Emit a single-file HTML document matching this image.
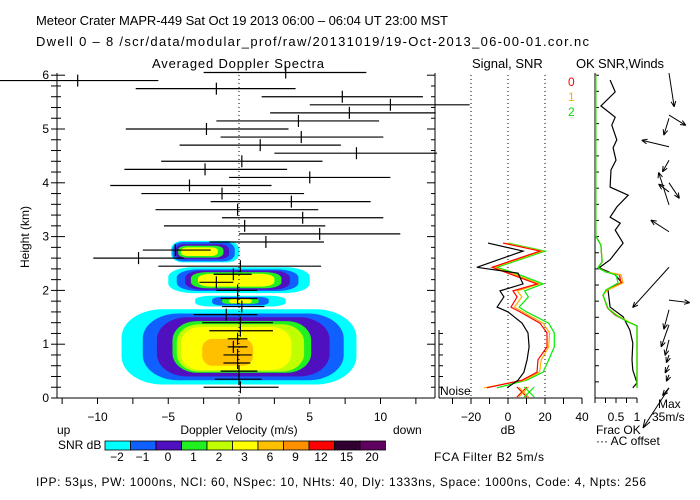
<!DOCTYPE html>
<html><head><meta charset="utf-8">
<style>
html,body{margin:0;padding:0;background:#fff;}
svg{display:block;font-family:"Liberation Sans",sans-serif;}
text{font-size:12px;fill:#000;}
</style></head>
<body>
<svg id="chart" width="700" height="500" viewBox="0 0 700 500" xmlns="http://www.w3.org/2000/svg">
<text x="36" y="25" style="font-size:13px" textLength="412" lengthAdjust="spacing">Meteor Crater  MAPR-449  Sat Oct 19 2013 06:00 – 06:04 UT 23:00 MST</text>
<text x="36" y="46" style="font-size:13px" textLength="553" lengthAdjust="spacing">Dwell  0 –  8   /scr/data/modular_prof/raw/20131019/19-Oct-2013_06-00-01.cor.nc</text>
<text x="152" y="68" style="font-size:13px" textLength="172" lengthAdjust="spacing">Averaged Doppler Spectra</text>
<text x="472" y="68" style="font-size:13px">Signal, SNR</text>
<text x="576" y="68" style="font-size:13px" textLength="88" lengthAdjust="spacing">OK SNR,Winds</text>
<text transform="translate(29,237) rotate(-90)" text-anchor="middle">Height (km)</text>
<text x="239" y="434" text-anchor="middle">Doppler Velocity (m/s)</text>
<text x="57" y="434">up</text>
<text x="393" y="434">down</text>
<text x="508" y="434" text-anchor="middle">dB</text>
<text x="596" y="434">Frac OK</text>
<text x="596" y="445">··· AC offset</text>
<text x="58" y="449">SNR dB</text>
<text x="434" y="461" textLength="110" lengthAdjust="spacing">FCA Filter B2  5m/s</text>
<text x="36" y="486" textLength="610" lengthAdjust="spacing">IPP:  53µs,  PW: 1000ns,  NCI:  60,  NSpec: 10, NHts: 40,  Dly: 1333ns,  Space: 1000ns,  Code: 4,  Npts: 256</text>
<text x="440" y="395">Noise</text>
<text x="568" y="86" style="fill:#ff0000">0</text>
<text x="568" y="101" style="fill:#ffb000">1</text>
<text x="568" y="116" style="fill:#00dd00">2</text>
<text x="658" y="408">Max</text>
<text x="652" y="421">35m/s</text>
<line x1="669" y1="388" x2="643" y2="428" stroke="#000"/>
<path d="M643 428 L645 419 M643 428 L650 422" stroke="#000" fill="none"/>
</svg>
<script>
// ---------- data ----------
const heights = [6.05,5.90,5.75,5.60,5.45,5.30,5.15,5.00,4.85,4.70,4.55,4.40,4.25,4.10,3.95,3.80,3.65,3.50,3.35,3.20,3.05,2.90,2.75,2.60,2.45,2.30,2.15,2.00,1.85,1.70,1.55,1.40,1.25,1.10,0.95,0.80,0.65,0.50,0.35,0.20];
const meanVel = [3.3,-11.4,-1.6,7.3,10.7,7.8,4.2,-2.3,4.4,1.5,8.3,0.2,-2.4,5.0,-3.5,-1.2,3.7,-0.1,4.5,0.4,5.7,1.9,-4.5,-7.1,0.1,-0.4,-1.6,-0.1,-0.1,0.2,-0.9,0.1,0.1,-0.1,-0.4,-0.1,-0.1,0.0,0.0,0.1];
const velLeft = [-2.5,-16.9,-7.3,1.6,5.0,2.2,-1.6,-8.0,-1.3,-4.2,2.5,-5.5,-8.1,-0.7,-9.1,-6.9,-2.0,-5.9,-1.2,-5.3,0.0,-2.1,-6.8,-10.3,-5.7,-1.8,-2.8,-1.6,-1.3,-1.2,-3.2,-2.6,-2.1,-0.8,-0.8,-1.1,-1.1,-1.3,-1.7,-2.5];
const velRight = [9.0,-5.7,4.0,13.0,16.3,13.9,9.9,3.5,10.2,7.2,14.0,5.9,3.4,10.7,2.3,4.6,9.3,5.6,10.2,6.1,11.4,6.0,-2.0,-3.9,5.8,0.9,-0.4,1.3,1.3,1.8,1.3,2.4,2.4,0.6,0.6,0.9,0.8,1.3,1.6,2.8];
const snrLevels = ["-2","-1","0","1","2","3","6","9","12","15","20"];
const snrColors = ["#00ffff","#1060ff","#5010c0","#20f020","#c0ff00","#ffff00","#ffc000","#ff9000","#ff0000","#300030","#600060"];
// contour blobs: center velocity, center height, half-width (m/s), half-height (km), level index
const blobVel = [0.0,0.3,0.3,0.2,0.1,-0.2,-0.8, 0.0,-0.1,-0.1,-0.2,-0.2, 0.1,0.1,0.1,0.1, -2.4,-2.5,-2.6,-2.7,-2.8];
const blobHt  = [0.95,0.95,0.95,0.95,0.93,0.92,0.85, 2.19,2.19,2.19,2.19,2.19, 1.80,1.80,1.80,1.80, 2.72,2.72,2.72,2.72,2.72];
const blobRx  = [8.3,7.1,6.1,4.9,4.5,3.9,1.8, 5.0,4.3,3.7,3.2,2.7, 3.2,2.0,1.3,0.8, 2.4,2.2,1.9,1.6,1.3];
const blobRy  = [0.70,0.62,0.55,0.48,0.44,0.40,0.25, 0.24,0.20,0.18,0.15,0.12, 0.10,0.08,0.05,0.04, 0.20,0.18,0.14,0.11,0.08];
const blobLvl = [0,1,2,3,4,5,6, 0,1,2,3,5, 0,1,3,5, 0,1,2,3,5];
// signal / SNR profiles
const sigHeights = [2.88,2.73,2.43,2.32,2.12,1.99,1.88,1.69,1.60,1.39,1.21,0.95,0.71,0.48,0.33,0.19];
const signalDb = [-10.8,8.1,-16.8,5.4,8.1,-4.3,-2.2,-5.9,0,7.6,10.8,11.4,10.3,8.6,5.4,-0.5];
const snr0 = [-2.7,17.3,-8.6,0,15.7,2.7,4.9,1.6,6.5,17.3,21.1,21.1,16.2,15.7,7.6,-11.4];
const snr1 = [-1.5,18.5,-7.5,2,17,5,7.5,3.5,8,19,22.5,22,18,17,9,-13];
const snr2 = [0,20,-6,4,19,9,11,6,10,22,25,25,22,19,10,-6];
const noiseDb = [7.5,8.5,11.5];
const sigTicks = [-20,0,20,40];
const velTicks = [-10,-5,0,5,10];
// frac OK
const fracHeights = [6.0,3.01,2.84,2.53,2.42,2.34,2.29,2.14,2.01,1.91,1.67,1.54,1.41,1.34,0.19];
const frac2 = [0.02,0.02,0.14,0.17,0.07,0.26,0.50,0.55,0.26,0.19,0.31,0.50,0.79,1.0,1.0];
const frac1 = [0.02,0.02,0.14,0.17,0.07,0.28,0.62,0.67,0.30,0.19,0.31,0.52,0.82,1.0,1.0];
const frac0 = [0.02,0.02,0.14,0.17,0.07,0.27,0.58,0.62,0.29,0.19,0.30,0.48,0.80,1.0,1.0];
const acHeights = [5.91,5.69,5.43,5.22,5.07,4.80,4.65,4.42,4.24,3.92,3.77,3.55,3.36,3.25,3.12,2.88,2.57,2.42,2.29,2.14,2.01,1.69,1.51,1.26,1.02,0.71,0.52,0.28,0.19];
const acValues = [.36,.48,.14,.48,.40,.52,.43,.50,.38,.36,.79,.52,.36,.60,.48,.67,.36,.10,.48,.64,.31,.36,.67,.83,.90,.88,.90,1.0,.90];
const fracTicks = [0.5,1];
// winds (m/s)
const windHt = [6.04,5.26,5.20,4.67,4.42,4.00,3.83,3.59,3.09,2.43,1.82,1.64,1.36,1.08,0.80,0.61,0.43,0.19];
const windU = [4,13,-4,-21,-5,8,-8,-8,-14,-28,16,-4,-6,-3,-2,-3,-2,-5];
const windV = [-26,-8,-13,5,-9,-12,6,25,9,-31,-2,-15,-17,-12,-6,-6,-5,-6];

// ---------- scales ----------
const Y0 = 398, KM = 53.8;
const yH = h => Y0 - h*KM;
const xV = v => 239 + v*14.15;
const xD = d => 508 + d*1.85;
const xF = f => 595 + f*42;
const WX = 669, WS = 1.3;

const svg = document.getElementById('chart');
const NS = 'http://www.w3.org/2000/svg';
function mk(tag, attrs, parent){
  const e = document.createElementNS(NS, tag);
  for (const k in attrs) e.setAttribute(k, attrs[k]);
  (parent||svg).appendChild(e);
  return e;
}

const defs = mk('defs',{});
const cp = mk('clipPath',{id:'mainclip'},defs);
mk('rect',{x:57,y:70,width:378,height:328},cp);

// contours (rounded boxes)
const cg = mk('g',{'clip-path':'url(#mainclip)'});


for (let i=0;i<blobVel.length;i++){
  const w = blobRx[i]*14.15, hh = blobRy[i]*KM;
  const r = Math.min(w, hh)*0.75;
  const e = mk('rect',{x:xV(blobVel[i])-w,y:yH(blobHt[i])-hh,width:2*w,height:2*hh,rx:Math.max(r,w*0.35),ry:r,fill:snrColors[blobLvl[i]]},cg);
  
  
}

const zl = mk('line',{x1:xV(0),y1:75,x2:xV(0),y2:Y0,stroke:'#000','stroke-dasharray':'1,3'});



const sg = mk('g',{stroke:'#000','stroke-width':1.2});


for (let i=0;i<heights.length;i++){
  const y = yH(heights[i]);
  const b = mk('line',{x1:Math.max(0,xV(velLeft[i])),y1:y,x2:xV(velRight[i]),y2:y},sg);
  
  
  const c = mk('line',{x1:xV(meanVel[i]),y1:y-6,x2:xV(meanVel[i]),y2:y+6},sg);
  
  
}

const ax = mk('g',{stroke:'#000','stroke-width':1,fill:'none'});


mk('line',{x1:57,y1:73,x2:57,y2:Y0},ax);
mk('line',{x1:435,y1:73,x2:435,y2:Y0},ax);
mk('line',{x1:57,y1:Y0,x2:435,y2:Y0},ax);
for (let h=0; h<=6.001; h+=0.2){
  const y=yH(h), major=Math.abs(h-Math.round(h))<0.01;
  mk('line',{x1:57,y1:y,x2:57+(major?8:4),y2:y},ax);
  mk('line',{x1:435,y1:y,x2:435-(major?8:4),y2:y},ax);
  mk('line',{x1:51,y1:y,x2:57,y2:y},ax);
  if (major){
    const t = mk('text',{x:49,y:y+4,'text-anchor':'end',stroke:'none',fill:'#000'});
    t.textContent = Math.round(h);
    
    
  }
}
for (let v=-12.5; v<=12.5; v+=2.5){
  mk('line',{x1:xV(v),y1:Y0,x2:xV(v),y2:Y0+6},ax);
}
velTicks.forEach(v=>{
  const t = mk('text',{x:xV(v),y:421,'text-anchor':'middle'});
  t.textContent = v<0 ? '−'+(-v) : v;
  
  
});

const cb = mk('g',{});


snrColors.forEach((c,i)=>{
  const r = mk('rect',{x:105+i*25.5,y:441,width:25.5,height:9,fill:c,stroke:'#000','stroke-width':0.8},cb);
  
  
  const t = mk('text',{x:105+i*25.5+12,y:461,'text-anchor':'middle'},cb);
  t.textContent = snrLevels[i].replace('-','−');
  
  
});

const sp = mk('g',{fill:'none'});


mk('line',{x1:439,y1:330,x2:439,y2:Y0,stroke:'#000'},sp);
mk('line',{x1:439,y1:Y0,x2:582,y2:Y0,stroke:'#000'},sp);
for (let d=-30; d<=40; d+=10){ mk('line',{x1:xD(d),y1:Y0,x2:xD(d),y2:Y0+6,stroke:'#000'},sp); }
for (let h=0; h<=1.2; h+=0.2){ mk('line',{x1:439,y1:yH(h),x2:443,y2:yH(h),stroke:'#000'},sp); }
[-20,0,20].forEach(d=>{
  const l = mk('line',{x1:xD(d),y1:75,x2:xD(d),y2:Y0,stroke:'#000','stroke-dasharray':'1,3'},sp);
  
  
});
sigTicks.forEach(d=>{
  const t = mk('text',{x:xD(d),y:421,'text-anchor':'middle',fill:'#000'},sp);
  t.textContent = d<0 ? '−'+(-d) : d;
  
  
});
function profile(vals, hts, xf, color, name, parent){
  const pts = vals.map((v,i)=>xf(v).toFixed(1)+','+yH(hts[i]).toFixed(1)).join(' ');
  const p = mk('polyline',{points:pts,stroke:color,fill:'none','stroke-width':1.2},parent);
  
  
}
profile(snr2, sigHeights, xD, '#00ee00', 'snr-line-2', sp);
profile(snr1, sigHeights, xD, '#ffb000', 'snr-line-1', sp);
profile(snr0, sigHeights, xD, '#ff0000', 'snr-line-0', sp);
profile(signalDb, sigHeights, xD, '#000000', 'signal-line', sp);
const noiseCols = ['#ff0000','#ffb000','#00ee00'];
noiseDb.forEach((d,i)=>{
  const x=xD(d), y=392;
  const m = mk('path',{d:`M${x-5} ${y-5}L${x+5} ${y+5}M${x-5} ${y+5}L${x+5} ${y-5}`,stroke:noiseCols[i],'stroke-width':1.2},sp);
  
  
});

const wp = mk('g',{fill:'none'});


mk('line',{x1:595,y1:73,x2:595,y2:Y0,stroke:'#000'},wp);
mk('line',{x1:595,y1:Y0,x2:637,y2:Y0,stroke:'#000'},wp);
for (let h=0; h<=6.001; h+=0.3){ mk('line',{x1:595,y1:yH(h),x2:599,y2:yH(h),stroke:'#000'},wp); }
for (let f=0; f<=1.001; f+=0.25){ mk('line',{x1:xF(f),y1:Y0,x2:xF(f),y2:Y0+5,stroke:'#000'},wp); }
fracTicks.forEach(f=>{
  const t = mk('text',{x:xF(f),y:421,'text-anchor':'middle',fill:'#000'},wp);
  t.textContent = f;
  
  
});
profile(acValues, acHeights, xF, '#000000', 'ac-offset-line', wp);
profile(frac0, fracHeights, xF, '#ff0000', 'frac-ok-line-0', wp);
profile(frac1, fracHeights, xF, '#ffb000', 'frac-ok-line-1', wp);
profile(frac2, fracHeights, xF, '#00ee00', 'frac-ok-line-2', wp);
windHt.forEach((h,i)=>{
  const x1=WX, y1=yH(h), x2=WX+windU[i]*WS, y2=y1-windV[i]*WS;
  const ang=Math.atan2(y2-y1,x2-x1), L=6;
  const a1=ang+Math.PI-0.4, a2=ang+Math.PI+0.4;
  const d=`M${x1} ${y1}L${x2} ${y2}M${x2} ${y2}L${x2+L*Math.cos(a1)} ${y2+L*Math.sin(a1)}M${x2} ${y2}L${x2+L*Math.cos(a2)} ${y2+L*Math.sin(a2)}`;
  const a = mk('path',{d:d,stroke:'#000','stroke-width':1},wp);
  
  
});
</script>
</body></html>
